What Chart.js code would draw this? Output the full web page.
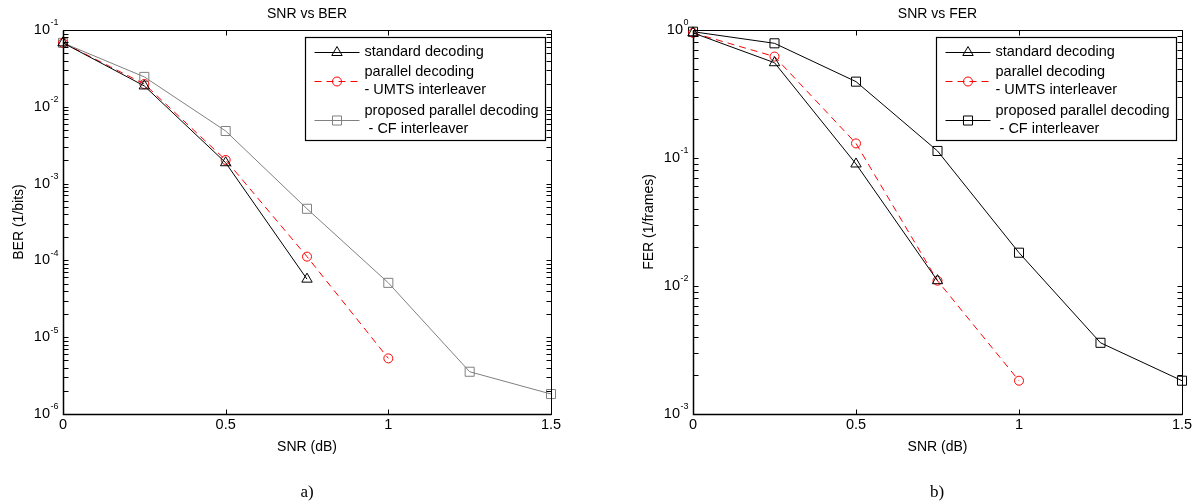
<!DOCTYPE html>
<html><head><meta charset="utf-8">
<script src="https://cdn.jsdelivr.net/npm/chart.js@4.4.1/dist/chart.umd.min.js"></script>
<style>
html,body{margin:0;padding:0;background:#fff;}
#wrap{position:relative;width:1195px;height:504px;overflow:hidden;background:#fff;}
#cA{position:absolute;left:0;top:0;width:630px;height:504px;}
#cB{position:absolute;left:630px;top:0;width:565px;height:504px;}
.cap{position:absolute;font-family:"Liberation Serif","Times New Roman",serif;font-size:17px;color:#000;line-height:18px;transform:translateX(-50%);}
</style></head><body>
<div id="wrap">
<canvas id="cA" width="630" height="504"></canvas>
<canvas id="cB" width="565" height="504"></canvas>
<div class="cap" style="left:307px;top:483px">a)</div>
<div class="cap" style="left:937px;top:483px">b)</div>
</div>
<script>
// ---- data ----
const snr = [0, 0.25, 0.5, 0.75, 1, 1.25, 1.5];
const xTicks = [0, 0.5, 1, 1.5];
const xTickLabels = ['0', '0.5', '1', '1.5'];

const berStandard = [0.068, 0.0187, 0.00187, 5.7e-5];
const berParallel = [0.068, 0.0198, 0.00203, 1.12e-4, 5.3e-6];
const berProposed = [0.068, 0.0245, 0.00484, 4.7e-4, 5.1e-5, 3.55e-6, 1.82e-6];
const berTicks = [1e-6, 1e-5, 1e-4, 1e-3, 1e-2, 1e-1];

const ferStandard = [0.95, 0.555, 0.0898, 0.011];
const ferParallel = [0.95, 0.62, 0.13, 0.011, 0.00182];
const ferProposed = [0.97, 0.787, 0.395, 0.1135, 0.0182, 0.0036, 0.00182];
const ferTicks = [1e-3, 1e-2, 1e-1, 1];

const legendLines = [
  ['standard decoding'],
  ['parallel decoding', '- UMTS interleaver'],
  ['proposed parallel decoding', ' - CF interleaver']
];

const FONT = '"Liberation Sans", Arial, Helvetica, sans-serif';
Chart.defaults.font.family = FONT;
Chart.defaults.color = '#000';

function ds(lines, values, color, style, radius, dash) {
  return {
    label: lines.join(' '),
    legendLines: lines,
    data: values.map((v, i) => ({x: snr[i], y: v})),
    borderColor: color, backgroundColor: 'rgba(0,0,0,0)', borderWidth: 1,
    borderDash: dash || [],
    pointStyle: style, pointRadius: radius, pointHoverRadius: radius,
    pointBorderColor: color, pointBackgroundColor: 'rgba(0,0,0,0)', pointBorderWidth: 1,
    tension: 0, fill: false, clip: false
  };
}

const matlabAxes = {
  id: 'matlabAxes',
  afterDatasetsDraw(chart, args, opts) {
    const {ctx, chartArea: a} = chart;
    const x = chart.scales.x, y = chart.scales.y;
    ctx.save();
    ctx.setLineDash([]);
    ctx.strokeStyle = '#000'; ctx.lineWidth = 1;
    const l = Math.round(a.left) + 0.5, r = Math.round(a.right) + 0.5;
    const t = Math.round(a.top) + 0.5, b = Math.round(a.bottom) + 0.5;
    ctx.beginPath();
    ctx.rect(l, t, r - l, b - t);
    const L = 5;
    x.ticks.forEach(tk => {
      const px = Math.round(x.getPixelForValue(tk.value)) + 0.5;
      ctx.moveTo(px, b); ctx.lineTo(px, b - L);
      ctx.moveTo(px, t); ctx.lineTo(px, t + L);
    });
    const dec = opts.decades;
    for (let i = 0; i < dec.length; i++) {
      for (let m = 1; m <= 9; m++) {
        const v = dec[i] * m;
        if (v > y.max * 1.0001 || v < y.min * 0.9999) continue;
        const py = Math.round(y.getPixelForValue(v)) + 0.5;
        ctx.moveTo(l, py); ctx.lineTo(l + L, py);
        ctx.moveTo(r, py); ctx.lineTo(r - L, py);
      }
    }
    ctx.stroke();
    // thicker left/bottom axis lines like the reference
    ctx.beginPath();
    ctx.moveTo(l, t); ctx.lineTo(l, b); ctx.lineTo(r, b);
    ctx.lineWidth = 1.5;
    ctx.stroke();
    // y tick labels 10^n
    ctx.fillStyle = '#000';
    ctx.textBaseline = 'middle';
    ctx.textAlign = 'right';
    dec.forEach(v => {
      const py = y.getPixelForValue(v);
      const e = String(Math.round(Math.log10(v)));
      ctx.font = '9px ' + FONT;
      const xr = a.left - 4.5;
      ctx.fillText(e, xr, py - 7);
      const ew = ctx.measureText(e).width;
      ctx.font = '14.5px ' + FONT;
      ctx.fillText('10', xr - ew - 0.5, py);
    });
    ctx.restore();
  },
  afterDraw(chart, args, opts) {
    const {ctx, chartArea: a} = chart;
    const W = 240, H = 103;
    const L = Math.round(a.right - 6 - W) + 0.5, T = Math.round(a.top + 7) + 0.5;
    ctx.save();
    ctx.setLineDash([]);
    ctx.fillStyle = '#fff';
    ctx.fillRect(L, T, W, H);
    ctx.strokeStyle = '#000'; ctx.lineWidth = 1.2;
    ctx.strokeRect(L, T, W, H);
    let yy = T + 14;
    chart.data.datasets.forEach(d => {
      const lines = d.legendLines;
      const my = Math.round(yy + (lines.length - 1) * 9) + 0.5;
      ctx.save();
      ctx.strokeStyle = d.borderColor; ctx.lineWidth = 1;
      ctx.setLineDash(d.borderDash || []);
      ctx.beginPath(); ctx.moveTo(L + 9, my); ctx.lineTo(L + 54, my); ctx.stroke();
      ctx.setLineDash([]);
      ctx.strokeStyle = d.pointBorderColor;
      ctx.fillStyle = 'rgba(0,0,0,0)';
      ctx.lineWidth = 1;
      Chart.helpers.drawPoint(ctx, {pointStyle: d.pointStyle, radius: d.pointRadius, rotation: 0, borderWidth: 1}, L + 31.5, my);
      ctx.restore();
      ctx.fillStyle = '#000';
      ctx.font = '14.5px ' + FONT;
      ctx.textAlign = 'left'; ctx.textBaseline = 'middle';
      lines.forEach((s, i) => ctx.fillText(s, L + 59, yy + i * 18));
      yy += (lines.length - 1) * 18 + 20.75;
    });
    ctx.restore();
  }
};

function makeChart(id, title, yTitle, yMin, yMax, decades, datasets, padRight) {
  return new Chart(document.getElementById(id), {
    type: 'line',
    data: {datasets},
    options: {
      responsive: false, animation: false, devicePixelRatio: 1,
      layout: {padding: {left: 0, right: padRight, top: 0, bottom: 0}},
      plugins: {
        legend: {display: false}, tooltip: {enabled: false},
        title: {display: true, text: title, color: '#000', fullSize: false,
          font: {size: 14, weight: 'normal'}, padding: {top: 5.6, bottom: 7.6}},
        matlabAxes: {decades}
      },
      scales: {
        x: {
          type: 'linear', min: 0, max: 1.5,
          afterBuildTicks: s => { s.ticks = xTicks.map(v => ({value: v})); },
          ticks: {padding: 2.6, color: '#000', font: {size: 14.5}, maxRotation: 0, autoSkip: false,
            callback: (v) => xTickLabels[xTicks.indexOf(v)]},
          grid: {display: false, drawTicks: false}, border: {display: false},
          title: {display: true, text: 'SNR (dB)', color: '#000', font: {size: 14}, padding: {top: 0, bottom: 48.6}},
          afterFit: s => { s.height = 90; }
        },
        y: {
          type: 'logarithmic', min: yMin, max: yMax,
          afterBuildTicks: s => { s.ticks = decades.map(v => ({value: v})); },
          ticks: {display: false},
          grid: {display: false, drawTicks: false}, border: {display: false},
          title: {display: true, text: yTitle, color: '#000', font: {size: 14}, padding: {top: 10.6, bottom: 0}},
          afterFit: s => { s.width = 63; }
        }
      }
    },
    plugins: [matlabAxes]
  });
}

makeChart('cA', 'SNR vs BER', 'BER (1/bits)', 1e-6, 1e-1, berTicks, [
  ds(legendLines[0], berStandard, '#000000', 'triangle', 6),
  ds(legendLines[1], berParallel, '#ff0000', 'circle', 4.5, [7, 5]),
  ds(legendLines[2], berProposed, '#808080', 'rect', 6.4)
], 79);

makeChart('cB', 'SNR vs FER', 'FER (1/frames)', 1e-3, 1, ferTicks, [
  ds(legendLines[0], ferStandard, '#000000', 'triangle', 6),
  ds(legendLines[1], ferParallel, '#ff0000', 'circle', 4.5, [7, 5]),
  ds(legendLines[2], ferProposed, '#000000', 'rect', 6.4)
], 13);
</script>
</body></html>
